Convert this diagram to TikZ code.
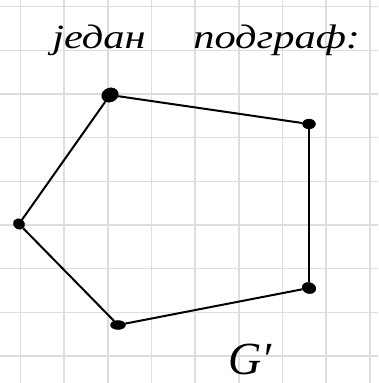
\documentclass[tikz,border=0pt]{standalone}
\usepackage{fontspec}
\newfontfamily\hand{Liberation Serif}
\definecolor{gridc}{HTML}{DDDDDD}
\tikzset{
  vtx/.style={draw=black, fill=black, ellipse, inner sep=0pt, minimum width=13pt, minimum height=10pt},
  edge/.style={line width=2pt, black},
  lbl/.style={inner sep=0pt, anchor=base west}
}
\usetikzlibrary{shapes.geometric}
\begin{document}
\begin{tikzpicture}[x=1pt,y=-1pt]
\useasboundingbox (0,0) rectangle (378,383);
\fill[white] (0,0) rectangle (378,383);
\foreach \i in {0,...,8} {
  \draw[gridc, line width=1.5pt] ({20.5+43.66*\i},0) -- ({20.5+43.66*\i},383);
  \draw[gridc, line width=1.5pt] (0,{6.7+43.66*\i}) -- (378,{6.7+43.66*\i});
}
\node[vtx, minimum width=17pt, minimum height=14pt, rotate=20] (a) at (110,95) {};
\node[vtx] (b) at (309,124) {};
\node[vtx, minimum width=12pt, minimum height=10pt, rotate=-30] (c) at (19,224) {};
\node[vtx, minimum width=15pt, minimum height=9pt] (d) at (118,325) {};
\node[vtx, minimum width=14pt, minimum height=11pt, rotate=-15] (e) at (309,288) {};
\draw[edge] (a) -- (b);
\draw[edge] (b) -- (e);
\draw[edge] (e) -- (d);
\draw[edge] (d) -- (c);
\draw[edge] (c) -- (a);
\node[lbl, xscale=1.25] (t1) at (52,48) {\hand\itshape\fontsize{34}{34}\selectfont један};
\node[lbl, xscale=1.25] (t2) at (193,48) {\hand\itshape\fontsize{34}{34}\selectfont подграф:};
\node[inner sep=0pt] (g) at (250,359) {\hand\itshape\fontsize{46}{46}\selectfont G′};
\end{tikzpicture}
\end{document}
